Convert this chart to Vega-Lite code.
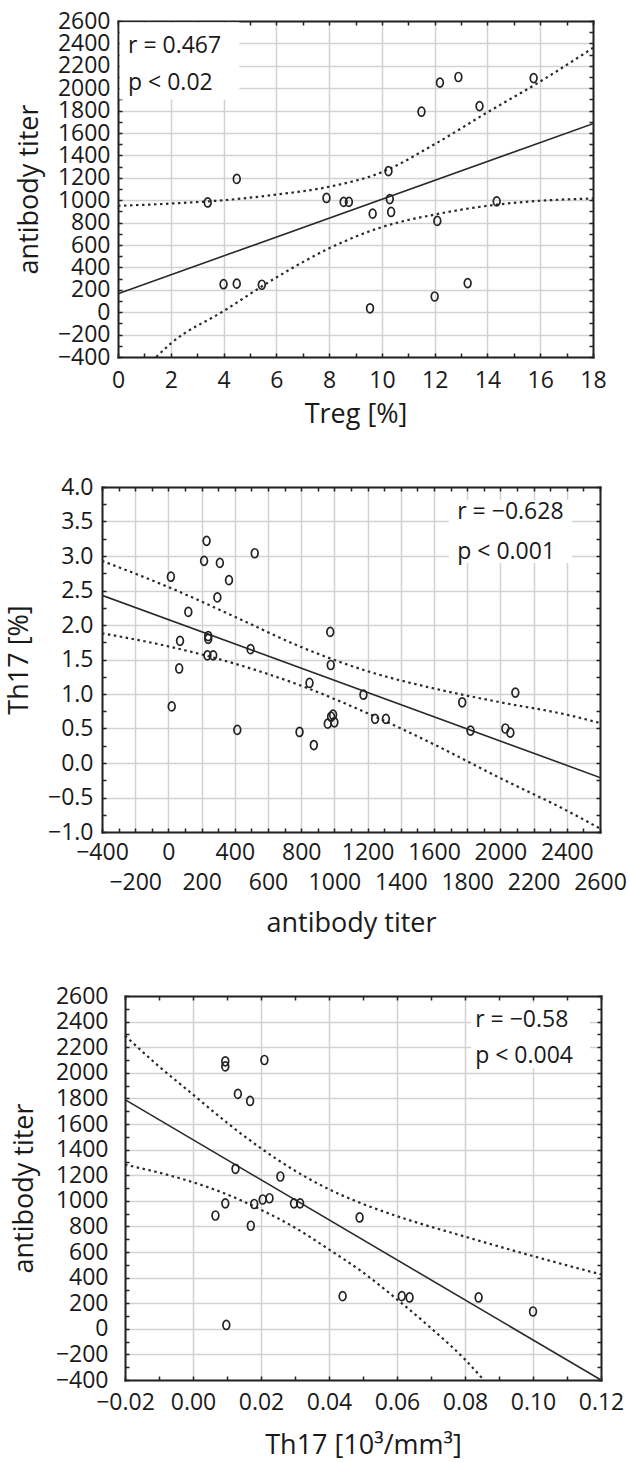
{
  "$schema": "https://vega.github.io/schema/vega-lite/v6.json",
  "background": "white",
  "padding": {"left": 5, "top": 10, "right": 0, "bottom": 6},
  "spacing": 49,
  "config": {
    "font": "Open Sans",
    "view": {"stroke": null},
    "axis": {
      "labelFont": "Open Sans", "labelFontSize": 23, "labelColor": "#1a1a1a",
      "titleFont": "Open Sans", "titleFontSize": 27, "titleFontWeight": "normal", "titleColor": "#1a1a1a",
      "gridColor": "#d2d2d2", "gridWidth": 1.5,
      "domain": true, "domainColor": "#222222", "domainWidth": 2, "domainCap": "square",
      "ticks": true, "tickSize": -4, "tickColor": "#222222", "tickWidth": 1.5,
      "labelOverlap": false, "labelFlush": false
    },
    "text": {"font": "Open Sans", "fontSize": 23, "fill": "#1a1a1a"}
  },
  "datasets": {
    "p1pts": [
      {"x": 3.4, "y": 980}, {"x": 4.5, "y": 1190}, {"x": 4.0, "y": 250}, {"x": 4.5, "y": 255},
      {"x": 5.45, "y": 245}, {"x": 7.9, "y": 1020}, {"x": 8.55, "y": 985}, {"x": 8.75, "y": 985},
      {"x": 9.65, "y": 880}, {"x": 9.55, "y": 35}, {"x": 10.25, "y": 1260}, {"x": 10.3, "y": 1010},
      {"x": 10.35, "y": 895}, {"x": 11.5, "y": 1790}, {"x": 12.2, "y": 2050}, {"x": 12.9, "y": 2100},
      {"x": 13.7, "y": 1840}, {"x": 12.1, "y": 815}, {"x": 12.0, "y": 140}, {"x": 13.25, "y": 260},
      {"x": 14.35, "y": 990}, {"x": 15.75, "y": 2090}
    ],
    "p1fit": [{"x": 0, "y": 165}, {"x": 18, "y": 1683}],
    "p1hi": [
      {"x": 0, "y": 950}, {"x": 2, "y": 970}, {"x": 4, "y": 1000}, {"x": 6, "y": 1050},
      {"x": 8, "y": 1120}, {"x": 10, "y": 1250}, {"x": 12, "y": 1500}, {"x": 14, "y": 1785},
      {"x": 16, "y": 2060}, {"x": 18, "y": 2360}
    ],
    "p1lo": [
      {"x": 1.45, "y": -400}, {"x": 2, "y": -280}, {"x": 4, "y": 10}, {"x": 6, "y": 310},
      {"x": 8, "y": 570}, {"x": 10, "y": 760}, {"x": 12, "y": 872}, {"x": 14, "y": 950},
      {"x": 16, "y": 995}, {"x": 18, "y": 1015}
    ],
    "p1box": [{"x": 0.06, "x2": 4.6, "y": 1900, "y2": 2588}],
    "p1text": [{"x": 0.38, "y": 2380, "t": "r = 0.467"}, {"x": 0.38, "y": 2045, "t": "p < 0.02"}],
    "p2pts": [
      {"x": 15, "y": 2.70}, {"x": 20, "y": 0.82}, {"x": 65, "y": 1.37}, {"x": 70, "y": 1.77},
      {"x": 120, "y": 2.19}, {"x": 230, "y": 3.22}, {"x": 215, "y": 2.93}, {"x": 310, "y": 2.90},
      {"x": 365, "y": 2.65}, {"x": 295, "y": 2.40}, {"x": 520, "y": 3.04}, {"x": 240, "y": 1.84},
      {"x": 240, "y": 1.80}, {"x": 235, "y": 1.56}, {"x": 270, "y": 1.56}, {"x": 495, "y": 1.65},
      {"x": 850, "y": 1.16}, {"x": 975, "y": 1.90}, {"x": 978, "y": 1.42}, {"x": 1175, "y": 0.99},
      {"x": 1770, "y": 0.88}, {"x": 2090, "y": 1.02}, {"x": 415, "y": 0.48}, {"x": 790, "y": 0.45},
      {"x": 876, "y": 0.26}, {"x": 960, "y": 0.57}, {"x": 980, "y": 0.67}, {"x": 992, "y": 0.70},
      {"x": 1000, "y": 0.59}, {"x": 1245, "y": 0.64}, {"x": 1310, "y": 0.64}, {"x": 1820, "y": 0.47},
      {"x": 2030, "y": 0.50}, {"x": 2060, "y": 0.44}
    ],
    "p2fit": [{"x": -400, "y": 2.43}, {"x": 2600, "y": -0.21}],
    "p2hi": [
      {"x": -400, "y": 2.93}, {"x": 0, "y": 2.55}, {"x": 400, "y": 2.12}, {"x": 800, "y": 1.68},
      {"x": 1200, "y": 1.33}, {"x": 1600, "y": 1.08}, {"x": 2000, "y": 0.88}, {"x": 2400, "y": 0.70},
      {"x": 2600, "y": 0.58}
    ],
    "p2lo": [
      {"x": -400, "y": 1.88}, {"x": 0, "y": 1.69}, {"x": 400, "y": 1.44}, {"x": 800, "y": 1.12},
      {"x": 1200, "y": 0.72}, {"x": 1600, "y": 0.27}, {"x": 2000, "y": -0.22}, {"x": 2400, "y": -0.69},
      {"x": 2600, "y": -0.95}
    ],
    "p2box": [{"x": 1690, "x2": 2431, "y": 2.90, "y2": 3.81}],
    "p2text": [{"x": 1740, "y": 3.64, "t": "r = −0.628"}, {"x": 1740, "y": 3.06, "t": "p < 0.001"}],
    "p3pts": [
      {"x": 0.0095, "y": 2090}, {"x": 0.0095, "y": 2050}, {"x": 0.021, "y": 2100}, {"x": 0.0132, "y": 1835},
      {"x": 0.0168, "y": 1780}, {"x": 0.0125, "y": 1250}, {"x": 0.0257, "y": 1190}, {"x": 0.0066, "y": 885},
      {"x": 0.0095, "y": 980}, {"x": 0.018, "y": 975}, {"x": 0.017, "y": 805}, {"x": 0.0205, "y": 1010},
      {"x": 0.0225, "y": 1020}, {"x": 0.0297, "y": 980}, {"x": 0.0315, "y": 980}, {"x": 0.049, "y": 870},
      {"x": 0.0098, "y": 30}, {"x": 0.044, "y": 255}, {"x": 0.0614, "y": 255}, {"x": 0.0637, "y": 245},
      {"x": 0.084, "y": 245}, {"x": 0.1, "y": 135}
    ],
    "p3fit": [{"x": -0.02, "y": 1790}, {"x": 0.12, "y": -400}],
    "p3hi": [
      {"x": -0.02, "y": 2290}, {"x": -0.01, "y": 2050}, {"x": 0, "y": 1830}, {"x": 0.01, "y": 1610},
      {"x": 0.02, "y": 1410}, {"x": 0.03, "y": 1235}, {"x": 0.04, "y": 1090}, {"x": 0.05, "y": 975},
      {"x": 0.06, "y": 880}, {"x": 0.08, "y": 720}, {"x": 0.10, "y": 568}, {"x": 0.12, "y": 425}
    ],
    "p3lo": [
      {"x": -0.02, "y": 1282}, {"x": -0.01, "y": 1220}, {"x": 0, "y": 1145}, {"x": 0.01, "y": 1050},
      {"x": 0.02, "y": 930}, {"x": 0.03, "y": 790}, {"x": 0.04, "y": 620}, {"x": 0.05, "y": 440},
      {"x": 0.06, "y": 230}, {"x": 0.07, "y": 5}, {"x": 0.08, "y": -240}, {"x": 0.0855, "y": -400}
    ],
    "p3box": [{"x": 0.0818, "x2": 0.1168, "y": 2037, "y2": 2545}],
    "p3text": [{"x": 0.083, "y": 2412, "t": "r = −0.58"}, {"x": 0.083, "y": 2131, "t": "p < 0.004"}]
  },
  "vconcat": [
    {
      "width": 491, "height": 336,
      "resolve": {"axis": {"x": "independent", "y": "independent"}},
      "encoding": {
        "x": {"field": "x", "type": "quantitative", "scale": {"domain": [0, 18], "range": [16, 491], "nice": false, "zero": false}, "axis": null},
        "y": {"field": "y", "type": "quantitative", "scale": {"domain": [-400, 2600], "nice": false, "zero": false}, "axis": null}
      },
      "layer": [
        {"data": {"name": "p1box"}, "mark": {"type": "rect", "fill": "white"}, "encoding": {"x2": {"field": "x2"}, "y2": {"field": "y2"}}},
        {"data": {"name": "p1text"}, "mark": {"type": "text", "align": "left", "baseline": "middle"}, "encoding": {"text": {"field": "t"}}},
        {"data": {"name": "p1fit"}, "mark": {"type": "line", "clip": true, "color": "#2a2a2a", "strokeWidth": 1.6},
          "encoding": {
            "x": {"field": "x", "type": "quantitative", "scale": {"domain": [0, 18], "range": [16, 491], "nice": false, "zero": false},
              "axis": {"orient": "bottom", "grid": true, "values": [0, 1, 2, 3, 4, 5, 6, 7, 8, 9, 10, 11, 12, 13, 14, 15, 16, 17, 18], "format": "d",
                "labelExpr": "datum.value % 2 == 0 ? datum.label : ''",
                "gridOpacity": {"condition": {"test": "datum.value % 2 != 0", "value": 0}, "value": 1},
                "title": "Treg [%]", "labelPadding": 16, "titlePadding": 9}},
            "y": {"field": "y", "type": "quantitative", "scale": {"domain": [-400, 2600], "nice": false, "zero": false},
              "axis": {"orient": "left", "offset": -16, "grid": true, "values": [-400, -300, -200, -100, 0, 100, 200, 300, 400, 500, 600, 700, 800, 900, 1000, 1100, 1200, 1300, 1400, 1500, 1600, 1700, 1800, 1900, 2000, 2100, 2200, 2300, 2400, 2500, 2600], "format": "d",
                "labelExpr": "datum.value % 200 == 0 ? datum.label : ''",
                "gridOpacity": {"condition": {"test": "datum.value % 200 != 0", "value": 0}, "value": 1},
                "title": "antibody titer", "labelPadding": 12, "titlePadding": 14}}
          }},
        {"data": {"name": "p1hi"}, "mark": {"type": "line", "clip": true, "color": "#2a2a2a", "strokeWidth": 2.2, "strokeDash": [2.5, 3.5], "interpolate": "monotone"},
          "encoding": {
            "x": {"field": "x", "type": "quantitative", "scale": {"domain": [0, 18], "range": [16, 491], "nice": false, "zero": false},
              "axis": {"orient": "top", "values": [0, 1, 2, 3, 4, 5, 6, 7, 8, 9, 10, 11, 12, 13, 14, 15, 16, 17, 18], "labels": false, "grid": false, "title": null}},
            "y": {"field": "y", "type": "quantitative", "scale": {"domain": [-400, 2600], "nice": false, "zero": false},
              "axis": {"orient": "right", "values": [-400, -300, -200, -100, 0, 100, 200, 300, 400, 500, 600, 700, 800, 900, 1000, 1100, 1200, 1300, 1400, 1500, 1600, 1700, 1800, 1900, 2000, 2100, 2200, 2300, 2400, 2500, 2600], "labels": false, "grid": false, "title": null}}
          }},
        {"data": {"name": "p1lo"}, "mark": {"type": "line", "clip": true, "color": "#2a2a2a", "strokeWidth": 2.2, "strokeDash": [2.5, 3.5], "interpolate": "monotone"}},
        {"data": {"name": "p1pts"}, "mark": {"type": "point", "filled": false, "stroke": "#222222", "strokeWidth": 1.7, "size": 81, "opacity": 1,
          "shape": "M0,-1 C0.414,-1 0.75,-0.552 0.75,0 C0.75,0.552 0.414,1 0,1 C-0.414,1 -0.75,0.552 -0.75,0 C-0.75,-0.552 -0.414,-1 0,-1 Z"}}
      ]
    },
    {
      "width": 498, "height": 345,
      "resolve": {"axis": {"x": "independent", "y": "independent"}},
      "encoding": {
        "x": {"field": "x", "type": "quantitative", "scale": {"domain": [-400, 2600], "nice": false, "zero": false}, "axis": null},
        "y": {"field": "y", "type": "quantitative", "scale": {"domain": [-1, 4], "nice": false, "zero": false}, "axis": null}
      },
      "layer": [
        {"data": {"name": "p2box"}, "mark": {"type": "rect", "fill": "white"}, "encoding": {"x2": {"field": "x2"}, "y2": {"field": "y2"}}},
        {"data": {"name": "p2text"}, "mark": {"type": "text", "align": "left", "baseline": "middle"}, "encoding": {"text": {"field": "t"}}},
        {"data": {"name": "p2fit"}, "mark": {"type": "line", "clip": true, "color": "#2a2a2a", "strokeWidth": 1.6},
          "encoding": {
            "x": {"field": "x", "type": "quantitative", "scale": {"domain": [-400, 2600], "nice": false, "zero": false},
              "axis": {"orient": "bottom", "grid": true, "values": [-400, -300, -200, -100, 0, 100, 200, 300, 400, 500, 600, 700, 800, 900, 1000, 1100, 1200, 1300, 1400, 1500, 1600, 1700, 1800, 1900, 2000, 2100, 2200, 2300, 2400, 2500, 2600], "format": "d",
                "labelExpr": "datum.value % 200 == 0 ? datum.label : ''",
                "gridOpacity": {"condition": {"test": "datum.value % 200 != 0", "value": 0}, "value": 1},
                "labelPadding": {"condition": {"test": "datum.value % 400 != 0", "value": 43}, "value": 13},
                "title": "antibody titer", "titlePadding": 16}},
            "y": {"field": "y", "type": "quantitative", "scale": {"domain": [-1, 4], "nice": false, "zero": false},
              "axis": {"orient": "left", "grid": true, "values": [-1, -0.75, -0.5, -0.25, 0, 0.25, 0.5, 0.75, 1, 1.25, 1.5, 1.75, 2, 2.25, 2.5, 2.75, 3, 3.25, 3.5, 3.75, 4], "format": ".1f",
                "labelExpr": "abs(datum.value * 2 - round(datum.value * 2)) > 0.01 ? '' : datum.label",
                "gridOpacity": {"condition": {"test": "abs(datum.value * 2 - round(datum.value * 2)) > 0.01", "value": 0}, "value": 1},
                "title": "Th17 [%]", "labelPadding": 13, "titlePadding": 14}}
          }},
        {"data": {"name": "p2hi"}, "mark": {"type": "line", "clip": true, "color": "#2a2a2a", "strokeWidth": 2.2, "strokeDash": [2.5, 3.5], "interpolate": "monotone"},
          "encoding": {
            "x": {"field": "x", "type": "quantitative", "scale": {"domain": [-400, 2600], "nice": false, "zero": false},
              "axis": {"orient": "top", "values": [-400, -300, -200, -100, 0, 100, 200, 300, 400, 500, 600, 700, 800, 900, 1000, 1100, 1200, 1300, 1400, 1500, 1600, 1700, 1800, 1900, 2000, 2100, 2200, 2300, 2400, 2500, 2600], "labels": false, "grid": false, "title": null}},
            "y": {"field": "y", "type": "quantitative", "scale": {"domain": [-1, 4], "nice": false, "zero": false},
              "axis": {"orient": "right", "values": [-1, -0.75, -0.5, -0.25, 0, 0.25, 0.5, 0.75, 1, 1.25, 1.5, 1.75, 2, 2.25, 2.5, 2.75, 3, 3.25, 3.5, 3.75, 4], "labels": false, "grid": false, "title": null}}
          }},
        {"data": {"name": "p2lo"}, "mark": {"type": "line", "clip": true, "color": "#2a2a2a", "strokeWidth": 2.2, "strokeDash": [2.5, 3.5], "interpolate": "monotone"}},
        {"data": {"name": "p2pts"}, "mark": {"type": "point", "filled": false, "stroke": "#222222", "strokeWidth": 1.7, "size": 81, "opacity": 1,
          "shape": "M0,-1 C0.414,-1 0.75,-0.552 0.75,0 C0.75,0.552 0.414,1 0,1 C-0.414,1 -0.75,0.552 -0.75,0 C-0.75,-0.552 -0.414,-1 0,-1 Z"}}
      ]
    },
    {
      "width": 499, "height": 384,
      "resolve": {"axis": {"x": "independent", "y": "independent"}},
      "encoding": {
        "x": {"field": "x", "type": "quantitative", "scale": {"domain": [-0.02, 0.12], "range": [23, 499], "nice": false, "zero": false}, "axis": null},
        "y": {"field": "y", "type": "quantitative", "scale": {"domain": [-400, 2600], "nice": false, "zero": false}, "axis": null}
      },
      "layer": [
        {"data": {"name": "p3box"}, "mark": {"type": "rect", "fill": "white"}, "encoding": {"x2": {"field": "x2"}, "y2": {"field": "y2"}}},
        {"data": {"name": "p3text"}, "mark": {"type": "text", "align": "left", "baseline": "middle"}, "encoding": {"text": {"field": "t"}}},
        {"data": {"name": "p3fit"}, "mark": {"type": "line", "clip": true, "color": "#2a2a2a", "strokeWidth": 1.6},
          "encoding": {
            "x": {"field": "x", "type": "quantitative", "scale": {"domain": [-0.02, 0.12], "range": [23, 499], "nice": false, "zero": false},
              "axis": {"orient": "bottom", "grid": true, "values": [-0.02, -0.01, 0, 0.01, 0.02, 0.03, 0.04, 0.05, 0.06, 0.07, 0.08, 0.09, 0.1, 0.11, 0.12], "format": ".2f",
                "labelExpr": "round(datum.value * 100) % 2 != 0 ? '' : datum.label",
                "gridOpacity": {"condition": {"test": "round(datum.value * 100) % 2 != 0", "value": 0}, "value": 1},
                "title": "Th17 [10³/mm³]", "labelPadding": 15, "titlePadding": 18}},
            "y": {"field": "y", "type": "quantitative", "scale": {"domain": [-400, 2600], "nice": false, "zero": false},
              "axis": {"orient": "left", "offset": -23, "grid": true, "values": [-400, -300, -200, -100, 0, 100, 200, 300, 400, 500, 600, 700, 800, 900, 1000, 1100, 1200, 1300, 1400, 1500, 1600, 1700, 1800, 1900, 2000, 2100, 2200, 2300, 2400, 2500, 2600], "format": "d",
                "labelExpr": "datum.value % 200 == 0 ? datum.label : ''",
                "gridOpacity": {"condition": {"test": "datum.value % 200 != 0", "value": 0}, "value": 1},
                "title": "antibody titer", "labelPadding": 21, "titlePadding": 17}}
          }},
        {"data": {"name": "p3hi"}, "mark": {"type": "line", "clip": true, "color": "#2a2a2a", "strokeWidth": 2.2, "strokeDash": [2.5, 3.5], "interpolate": "monotone"},
          "encoding": {
            "x": {"field": "x", "type": "quantitative", "scale": {"domain": [-0.02, 0.12], "range": [23, 499], "nice": false, "zero": false},
              "axis": {"orient": "top", "values": [-0.02, -0.01, 0, 0.01, 0.02, 0.03, 0.04, 0.05, 0.06, 0.07, 0.08, 0.09, 0.1, 0.11, 0.12], "labels": false, "grid": false, "title": null}},
            "y": {"field": "y", "type": "quantitative", "scale": {"domain": [-400, 2600], "nice": false, "zero": false},
              "axis": {"orient": "right", "values": [-400, -300, -200, -100, 0, 100, 200, 300, 400, 500, 600, 700, 800, 900, 1000, 1100, 1200, 1300, 1400, 1500, 1600, 1700, 1800, 1900, 2000, 2100, 2200, 2300, 2400, 2500, 2600], "labels": false, "grid": false, "title": null}}
          }},
        {"data": {"name": "p3lo"}, "mark": {"type": "line", "clip": true, "color": "#2a2a2a", "strokeWidth": 2.2, "strokeDash": [2.5, 3.5], "interpolate": "monotone"}},
        {"data": {"name": "p3pts"}, "mark": {"type": "point", "filled": false, "stroke": "#222222", "strokeWidth": 1.7, "size": 81, "opacity": 1,
          "shape": "M0,-1 C0.414,-1 0.75,-0.552 0.75,0 C0.75,0.552 0.414,1 0,1 C-0.414,1 -0.75,0.552 -0.75,0 C-0.75,-0.552 -0.414,-1 0,-1 Z"}}
      ]
    }
  ]
}
